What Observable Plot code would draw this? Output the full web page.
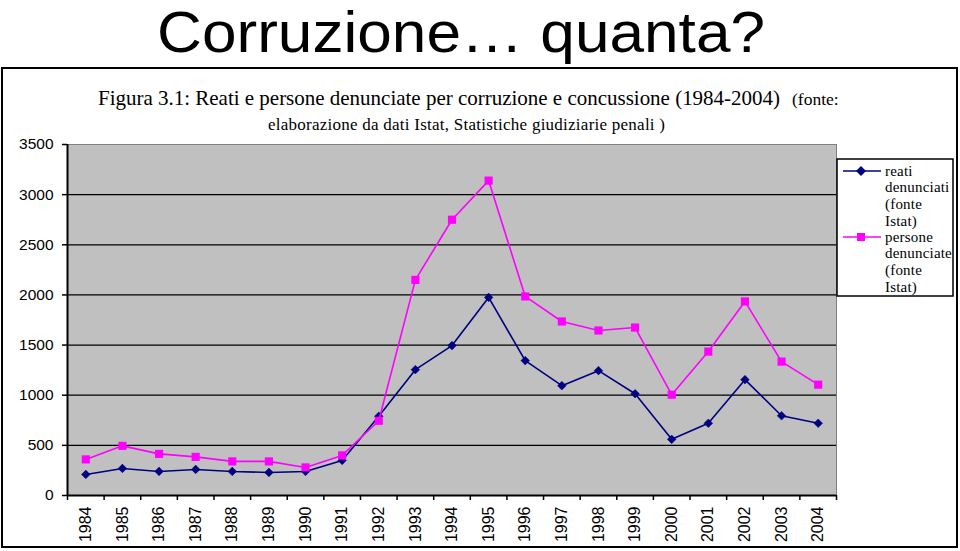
<!DOCTYPE html>
<html>
<head>
<meta charset="utf-8">
<script src="https://cdn.jsdelivr.net/npm/d3@7"></script>
<script src="https://cdn.jsdelivr.net/npm/@observablehq/plot@0.6"></script>
<style>
  body { margin: 0; background: #ffffff; }
  #wrap { position: relative; width: 960px; height: 551px; overflow: hidden; }
  #wrap > svg, #wrap > div { position: absolute; left: 0; top: 0; }
  .serif { font-family: "Liberation Serif", "Times New Roman", serif; }
  .sans { font-family: "Liberation Sans", Arial, sans-serif; }
</style>
</head>
<body>
<div id="wrap">
  <svg id="bg" width="960" height="551">
    <rect x="2" y="68" width="955" height="479" fill="#ffffff" stroke="#000000" stroke-width="2"></rect>
  </svg>
  <div id="chart"></div>
  <svg id="overlay" width="960" height="551"></svg>
</div>
<script>
// ---- data ----
const years = [1984, 1985, 1986, 1987, 1988, 1989, 1990, 1991, 1992, 1993, 1994,
               1995, 1996, 1997, 1998, 1999, 2000, 2001, 2002, 2003, 2004];
const reati = [210, 270, 240, 260, 240, 230, 240, 350, 790, 1255, 1495,
               1975, 1345, 1095, 1245, 1015, 560, 720, 1155, 795, 720];
const persone = [360, 495, 415, 385, 340, 340, 280, 400, 745, 2150, 2750,
                 3140, 1985, 1735, 1645, 1675, 1005, 1435, 1935, 1335, 1105];
const yTicks = [0, 500, 1000, 1500, 2000, 2500, 3000, 3500];
const gridLevels = [500, 1000, 1500, 2000, 2500, 3000];
const titleText = "Corruzione\u2026 quanta?";
const captionMain = "Figura 3.1: Reati e persone denunciate per corruzione e concussione (1984-2004)";
const captionFonte = "(fonte:";
const captionLine2 = "elaborazione da dati Istat, Statistiche giudiziarie penali )";
const legendReati = ["reati", "denunciati", "(fonte", "Istat)"];
const legendPersone = ["persone", "denunciate", "(fonte", "Istat)"];

const rows = years.map((year, i) => ({year, reati: reati[i], persone: persone[i]}));
// category band edges (between consecutive years)
const edges = years.map(y => y - 0.5).concat([years[years.length - 1] + 0.5]);

const navy = "#000080", magenta = "#ff00ff";

const chart = Plot.plot({
  width: 960,
  height: 551,
  marginLeft: 67,
  marginRight: 124,
  marginTop: 144,
  marginBottom: 56,
  style: {background: "transparent", fontFamily: "Liberation Sans, Arial, sans-serif", color: "#000"},
  x: {domain: [edges[0], edges[edges.length - 1]]},
  y: {domain: [0, 3500]},
  marks: [
    Plot.frame({fill: "#c0c0c0", stroke: "#808080", strokeWidth: 1}),
    Plot.ruleY(gridLevels, {stroke: "#000", strokeWidth: 1.3}),
    Plot.ruleY([0], {stroke: "#000", strokeWidth: 2}),
    Plot.ruleX([edges[0]], {stroke: "#000", strokeWidth: 2}),
    Plot.line(rows, {x: "year", y: "reati", stroke: navy, strokeWidth: 1.6}),
    Plot.dot(rows, {x: "year", y: "reati", symbol: "diamond2", r: 3.9, fill: navy, stroke: navy, strokeWidth: 0.5}),
    Plot.line(rows, {x: "year", y: "persone", stroke: magenta, strokeWidth: 1.6}),
    Plot.dot(rows, {x: "year", y: "persone", symbol: "square", r: 4.6, fill: magenta, stroke: "none"}),
    Plot.axisY(yTicks, {tickSize: 5, tickPadding: 9, fontSize: 15.5, tickFormat: d => String(d), label: null, strokeWidth: 1.5}),
    Plot.axisX(edges, {tickSize: 5, tickFormat: () => "", label: null, strokeWidth: 1.5}),
    Plot.axisX(years, {tickSize: 0, tickPadding: 11, tickRotate: -90, fontSize: 16, tickFormat: d => String(d), label: null})
  ]
});
document.getElementById("chart").appendChild(chart);

// ---- overlay: title, caption, legend ----
const ov = d3.select("#overlay");
ov.append("text").attr("class", "sans")
  .attr("x", 461).attr("y", 52).attr("text-anchor", "middle")
  .attr("font-size", 57).attr("textLength", 608).attr("lengthAdjust", "spacingAndGlyphs")
  .text(titleText);

ov.append("text").attr("class", "serif")
  .attr("x", 98).attr("y", 105).attr("font-size", 21)
  .attr("textLength", 682).attr("lengthAdjust", "spacing")
  .text(captionMain);
ov.append("text").attr("class", "serif")
  .attr("x", 792).attr("y", 105).attr("font-size", 17.5)
  .text(captionFonte);
ov.append("text").attr("class", "serif")
  .attr("x", 268).attr("y", 130).attr("font-size", 17)
  .attr("textLength", 397).attr("lengthAdjust", "spacing")
  .text(captionLine2);

// legend
const lg = ov.append("g");
lg.append("rect").attr("x", 837).attr("y", 159).attr("width", 116).attr("height", 137)
  .attr("fill", "#fff").attr("stroke", "#000").attr("stroke-width", 1.5);
lg.append("line").attr("x1", 843).attr("x2", 881).attr("y1", 171).attr("y2", 171)
  .attr("stroke", navy).attr("stroke-width", 1.6);
lg.append("path").attr("d", "M861,166L866,171L861,176L856,171Z").attr("fill", navy);
lg.append("line").attr("x1", 843).attr("x2", 881).attr("y1", 237).attr("y2", 237)
  .attr("stroke", magenta).attr("stroke-width", 1.6);
lg.append("rect").attr("x", 857).attr("y", 233).attr("width", 8).attr("height", 8).attr("fill", magenta);
const lgLines = legendReati.concat(legendPersone);
const lgBase = [176, 192, 209, 226, 242, 258, 275, 292];
lgLines.forEach((t, i) => {
  lg.append("text").attr("class", "serif").attr("x", 885).attr("y", lgBase[i])
    .attr("font-size", 15).attr("letter-spacing", 0.2).text(t);
});
</script>
</body>
</html>
